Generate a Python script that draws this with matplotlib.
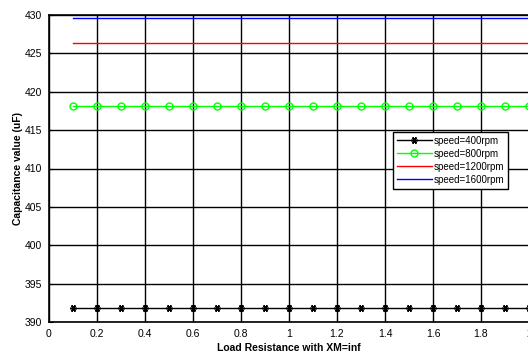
import matplotlib
matplotlib.use('Agg')
import matplotlib.pyplot as plt

plt.rcParams['font.family'] = ['Liberation Sans', 'DejaVu Sans']

# load resistance values
load_r = [0.1, 0.2, 0.3, 0.4, 0.5, 0.6, 0.7, 0.8, 0.9, 1.0,
          1.1, 1.2, 1.3, 1.4, 1.5, 1.6, 1.7, 1.8, 1.9, 2.0]
# capacitance at each speed (constant)
cap_400 = [391.8] * 20
cap_800 = [418.1] * 20
cap_1200 = [426.3] * 20
cap_1600 = [429.6] * 20

fig = plt.figure(figsize=(5.28, 3.54), dpi=100)
ax = fig.add_axes([49/528, 32/354, 480/528, 307/354])

ax.plot(load_r, cap_400, color='k', lw=1, marker=(6, 2, 90), ms=5, mew=1.1, label='speed=400rpm')
ax.plot(load_r, cap_800, color='#00ff00', lw=1, marker='o', ms=5, mfc='none', mec='#00ff00', label='speed=800rpm')
ax.plot(load_r, cap_1200, color='r', lw=1, label='speed=1200rpm')
ax.plot(load_r, cap_1600, color='b', lw=1, label='speed=1600rpm')

ax.set_xlim(0, 2)
ax.set_ylim(390, 430)
ax.set_xticks([0, 0.2, 0.4, 0.6, 0.8, 1, 1.2, 1.4, 1.6, 1.8, 2])
ax.set_xticklabels(['0', '0.2', '0.4', '0.6', '0.8', '1', '1.2', '1.4', '1.6', '1.8', '2'])
ax.set_yticks(range(390, 431, 5))
ax.grid(True, color='k', lw=1, ls='-')
ax.tick_params(labelsize=7.5, direction='in', length=3, pad=5)
for s in ax.spines.values():
    s.set_linewidth(1.2)

ax.set_xlabel('Load Resistance with XM=inf', fontsize=7.5, fontweight='bold', labelpad=3)
ax.set_ylabel('Capacitance value (uF)', fontsize=7.5, fontweight='bold', labelpad=1)

leg = ax.legend(loc='upper left', bbox_to_anchor=(393/528, 1 - 132/354), bbox_transform=fig.transFigure,
                fontsize=7, fancybox=False, framealpha=1, edgecolor='k', borderpad=0.4,
                handlelength=3.6, labelspacing=0.3, handletextpad=0.2, borderaxespad=0)
leg.get_frame().set_linewidth(1)

fig.savefig('out.png', dpi=100)
